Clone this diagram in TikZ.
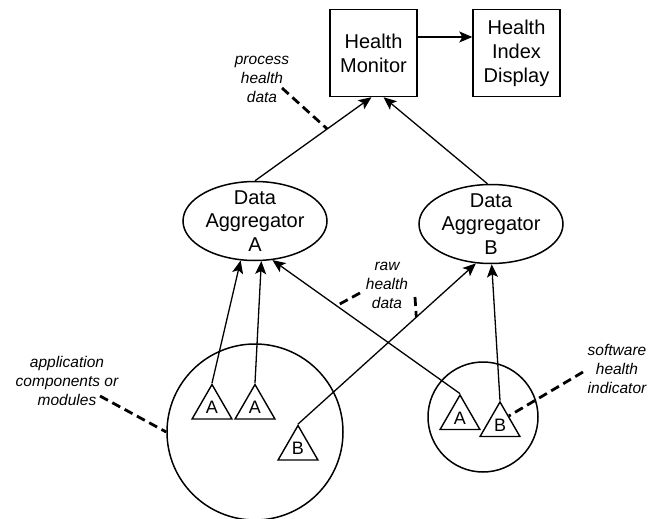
\documentclass[tikz,border=0pt]{standalone}
\usepackage{fontspec}
\setmainfont{Liberation Sans}
\usetikzlibrary{arrows.meta,shapes.geometric,calc}
\begin{document}
\begin{tikzpicture}[x=1pt,y=-1pt,
  box/.style={draw,line width=1.4pt,minimum width=87pt,minimum height=87pt,inner sep=0pt,align=center,font=\fontsize{20}{24}\selectfont},
  agg/.style={draw,ellipse,line width=1.5pt,minimum width=144pt,minimum height=79pt,inner sep=0pt},
  aggtxt/.style={align=center,font=\fontsize{20}{23.5}\selectfont},
  grp/.style={draw,circle,line width=1.5pt,inner sep=0pt},
  comp/.style={draw,regular polygon,regular polygon sides=3,minimum size=46pt,inner sep=0pt,line width=1.4pt,font=\fontsize{18}{18}\selectfont},
  note/.style={align=center,font=\fontsize{15.5}{19}\selectfont\itshape},
  lead/.style={line width=2.8pt,dash pattern=on 9pt off 5pt},
  con/.style={line width=1.3pt},
  arr/.style={con,-{Stealth[length=13pt,width=11pt,inset=3pt]}}]
\useasboundingbox (0,0) rectangle (657,519);

\node[box] (hm) at (373.5,53) {Health\\Monitor};
\node[box] (hid) at (516.5,53) {Health\\Index\\Display};
\draw[arr] (hm.east |- 0,37) -- (hid.west |- 0,37);

\node[agg,label={[aggtxt]center:{Data\\Aggregator\\A}}] (ea) at (255,221) {};
\node[agg,label={[aggtxt]center:{Data\\Aggregator\\B}}] (eb) at (491,224) {};

\node[grp,minimum size=176pt] (bc) at (255,432) {};
\node[grp,minimum size=110pt] (sc) at (483,417) {};

\node[comp] (ta1) at (212,407.5) {A};
\node[comp] (ta2) at (255,407.5) {A};
\node[comp] (tb1) at (298,448.5) {B};
\node[comp] (ta3) at (460,418) {A};
\node[comp] (tb2) at (500,425) {B};

\draw[arr] (ea.north) -- coordinate[pos=0.62] (p1) ([xshift=-2pt]hm.south);
\draw[arr] (eb.95) -- ([xshift=10pt]hm.south);

\draw[arr] (ta1.corner 1) -- (ea.250);
\draw[arr] (ta2.corner 1) -- (ea.279);
\draw[arr] (ta3.corner 1) -- coordinate[pos=0.658] (p2) (ea.294);
\draw[arr] (tb1.corner 1) -- coordinate[pos=0.665] (p3) (eb.249);
\draw[arr] (tb2.corner 1) -- (eb.271);

\node[note] (n1) at (262,79) {process\\health\\data};
\node[note] (n2) at (387,285) {raw\\health\\data};
\node[note] (n3) at (67,381) {application\\components or\\modules};
\node[note] (n4) at (617,369) {software\\health\\indicator};

\coordinate (l1) at (282,88);
\coordinate (l2a) at (360,293);
\coordinate (l2b) at (415,297);
\coordinate (l3) at (100,396);
\coordinate (l4) at (583,372);
\draw[lead] (l1) -- (p1);
\draw[lead] (l2a) -- (p2);
\draw[lead] (l2b) -- (p3);
\draw[lead] (l3) -- (bc.west);
\draw[lead] (l4) -- ($(tb2.corner 1)!0.42!(tb2.corner 3)$);
\end{tikzpicture}
\end{document}
